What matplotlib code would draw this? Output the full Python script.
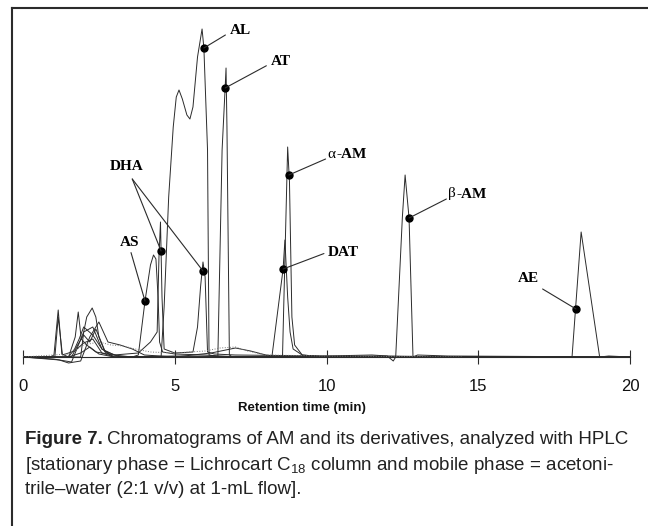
import matplotlib.pyplot as plt
from matplotlib.lines import Line2D
from matplotlib.transforms import offset_copy

# retention time (min) / detector signal (arbitrary units)
al_t = [0, 0.9, 1.02, 1.16, 1.28, 1.5, 1.9, 2.2, 2.5, 3.0, 4.0, 4.55, 4.65, 4.8, 4.95, 5.05, 5.14,
        5.25, 5.4, 5.5, 5.6, 5.75, 5.9, 5.96, 6.08, 6.13, 6.5, 7.5, 10, 15, 20]
al_y = [0, 0, 2, 47, 3, 0, 4, 10, 3, 0, 0, 0, 50, 160, 230, 260, 267,
        258, 242, 238, 250, 300, 328, 309, 207, 2, 0, 0, 0, 0, 0]

at_t = [0, 1.9, 2.0, 2.1, 2.28, 2.4, 2.5, 2.7, 3.0, 4.5, 6.2, 6.42, 6.56, 6.66, 6.69, 6.72, 6.80,
        6.9, 7.5, 10, 20]
at_y = [0, 0, 25, 40, 49, 40, 20, 5, 0, 0, 0, 0, 207, 269, 289, 230, 2, 0, 0, 0, 0]

dha_t = [0, 1.0, 1.5, 1.72, 1.82, 1.92, 2.1, 2.4, 3.0, 3.8, 4.2, 4.42, 4.48, 4.53, 4.58, 4.65, 5.0,
         5.6, 5.75, 5.85, 5.93, 6.0, 6.08, 6.3, 7, 10, 15, 20]
dha_y = [0, 0, 0, 20, 45, 18, 12, 5, 2, 4, 15, 25, 100, 135, 60, 8, 4,
         5, 30, 70, 95, 80, 5, 3, 2, 1, 0, 0]

as_t = [0, 1.0, 1.6, 1.8, 2.0, 2.3, 2.6, 3.0, 3.6, 3.8, 4.02, 4.2, 4.3, 4.38, 4.45, 4.5, 4.6, 5, 6, 7,
        10, 14.5, 20]
as_y = [0, -2, -5, 10, 25, 30, 8, 2, 0, 2, 56, 92, 102, 98, 60, 15, 5, 3, 2, 0, 0, 0, 0]

aam_t = [0, 1.5, 1.7, 1.85, 2.0, 2.3, 2.6, 3.0, 5, 6.2, 7.0, 7.5, 8.0, 8.55, 8.72, 8.78, 8.86,
         8.95, 9.2, 10, 12, 14.5, 15.5]
aam_y = [0, 0, 8, 18, 30, 22, 8, 0, 0, 4, 9, 6, 2, 0, 210, 175, 40, 12, 2, 0, 1, 0, 0]

dat_t = [0, 1.2, 1.5, 1.9, 2.2, 2.5, 2.8, 3.2, 3.6, 4.0, 5, 7, 8.2, 8.57, 8.63, 8.72, 8.8, 8.9,
         9.2, 10, 12, 14.5]
dat_y = [0, -3, -6, -4, 20, 35, 15, 12, 8, 2, 0, 0, 0, 88, 117, 60, 25, 8, 2, 0, 0, 0]

bam_t = [0, 1.6, 1.8, 2.0, 2.2, 2.4, 2.7, 3.2, 5, 8, 10, 11.5, 12.0, 12.2, 12.28, 12.5, 12.59,
         12.72, 12.85, 13.0, 14, 20]
bam_y = [0, 0, 12, 22, 15, 28, 6, 0, 0, 0, 1, 2, 1, -4, 0, 140, 182, 139, 0, 2, 1, 0]

ae_t = [0, 1.05, 1.16, 1.3, 1.7, 2.0, 2.3, 2.6, 3, 5, 10, 15, 18.09, 18.39, 19.0, 19.3, 20]
ae_y = [0, 0, 40, 2, 6, 14, 18, 4, 0, 1, 0, 0, 0, 125, 0, 1, 0]

blank_t = [0, 1.5, 2.0, 2.5, 2.9, 3.3, 3.7, 4.2, 5, 6.0, 6.5, 7.0, 7.4, 8, 10, 14.5]
blank_y = [0, 3, 12, 15, 12, 11, 8, 5, 4, 6, 9, 10, 6, 2, 1, 0]

# label, dot (t, y), text (t, y), where the leader leaves the text box
labels = [
    ('AL', (5.96, 309), (6.80, 327), (0, 0.3)),
    ('AT', (6.66, 269), (8.15, 296), (0, 0.3)),
    ('DAT', (8.57, 88), (10.05, 105), (0, 0.5)),
    ('AE', (18.22, 48), (16.65, 78), (0.9, 0)),
    ('AS', (4.02, 56), (3.52, 115), (0.5, 0)),
]
dha_dots = [(4.55, 106), (5.93, 86)]
aam_dot, aam_txt = (8.76, 182), (10.02, 203)
bam_dot, bam_txt = (12.72, 139), (14.0, 163)

ink = '#2b2b2b'
serif = ['Liberation Serif', 'DejaVu Serif']
sans = ['Liberation Sans', 'DejaVu Sans']

fig = plt.figure(figsize=(6.48, 5.26), dpi=100)
ax = fig.add_axes([23/648, (526-367)/526, 607/648, 347/526])
ax.set_xlim(0, 20)
ax.set_ylim(-10, 337)

traces = [(al_t, al_y), (at_t, at_y), (dha_t, dha_y), (as_t, as_y), (aam_t, aam_y),
          (dat_t, dat_y), (bam_t, bam_y), (ae_t, ae_y)]
for t, y in traces:
    ax.plot(t, y, color=ink, lw=0.7)
ax.plot(blank_t, blank_y, color='#777777', lw=0.7, ls=':')

for sp in ['left', 'top', 'right']:
    ax.spines[sp].set_visible(False)
ax.spines['bottom'].set_position(('data', 0))
ax.spines['bottom'].set_color(ink)
ax.spines['bottom'].set_linewidth(0.8)
ax.set_yticks([])
ax.set_xticks([0, 5, 10, 15, 20])
ax.tick_params(axis='x', direction='inout', length=10, width=0.8, color=ink,
               labelsize=12, pad=11, labelcolor='#111111')
for lab in ax.get_xticklabels():
    lab.set_family(sans)

for name, dot, txt, rp in labels:
    ax.annotate(name, xy=dot, xytext=txt, fontsize=11, fontweight='bold', family=serif,
                va='center', ha='left' if name not in ('AE', 'AS') else 'center',
                arrowprops=dict(arrowstyle='-', color=ink, lw=0.8, shrinkA=1, shrinkB=0,
                                relpos=rp))
    ax.plot(*dot, 'o', color='black', ms=5)

lead = dict(arrowstyle='-', color=ink, lw=0.8, shrinkA=0, shrinkB=0)

# DHA: one label pointing at two peaks
for d in dha_dots:
    ax.annotate('', xy=d, xytext=(3.60, 178), arrowprops=lead)
    ax.plot(*d, 'o', color='black', ms=5)
ax.text(3.43, 190, 'DHA', fontsize=11, fontweight='bold', family=serif, ha='center', va='center')

# alpha / beta in regular weight, "-AM" in bold
for dot, txt, greek in [(aam_dot, aam_txt, 'α'), (bam_dot, bam_txt, 'β')]:
    ax.annotate('', xy=dot, xytext=(txt[0] - 0.05, txt[1] - 5), arrowprops=lead)
    ax.plot(*dot, 'o', color='black', ms=5)
    ax.text(txt[0], txt[1], greek, fontsize=11, family=serif, ha='left', va='center')
    tr = offset_copy(ax.transData, fig=fig, x=6.5, y=0, units='points')
    ax.text(txt[0], txt[1], '-AM', fontsize=11, fontweight='bold', family=serif,
            ha='left', va='center', transform=tr)

fig.text(302/648, 1 - 408/526, 'Retention time (min)', fontsize=9.5, fontweight='bold',
         family=sans, ha='center', va='center', color='#111111')

# frame of the figure panel
fig.add_artist(Line2D([12/648, 12/648], [0, 1 - 8/526], color=ink, lw=1.5))
fig.add_artist(Line2D([12/648, 1], [1 - 8/526, 1 - 8/526], color=ink, lw=1.5))

# caption
cap = ['Liberation Sans Narrow', 'Liberation Sans', 'DejaVu Sans']
fs = 13.5
x0 = 25/648
r = fig.canvas.get_renderer()
t1 = fig.text(x0, 1 - 440/526, 'Figure 7.', fontsize=fs, fontweight='bold', family=cap,
              va='center', color='#222222')
w = t1.get_window_extent(renderer=r).width / fig.bbox.width
fig.text(x0 + w + 4/648, 1 - 440/526,
         'Chromatograms of AM and its derivatives, analyzed with HPLC',
         fontsize=fs, family=cap, va='center', color='#222222')
fig.text(x0, 1 - 465/526,
         r'[stationary phase = Lichrocart C$\mathregular{_{18}}$ column and mobile phase = acetoni-',
         fontsize=fs, family=cap, va='center', color='#222222')
fig.text(x0, 1 - 490/526, 'trile–water (2:1 v/v) at 1-mL flow].',
         fontsize=fs, family=cap, va='center', color='#222222')

fig.savefig('out.png', dpi=100)
